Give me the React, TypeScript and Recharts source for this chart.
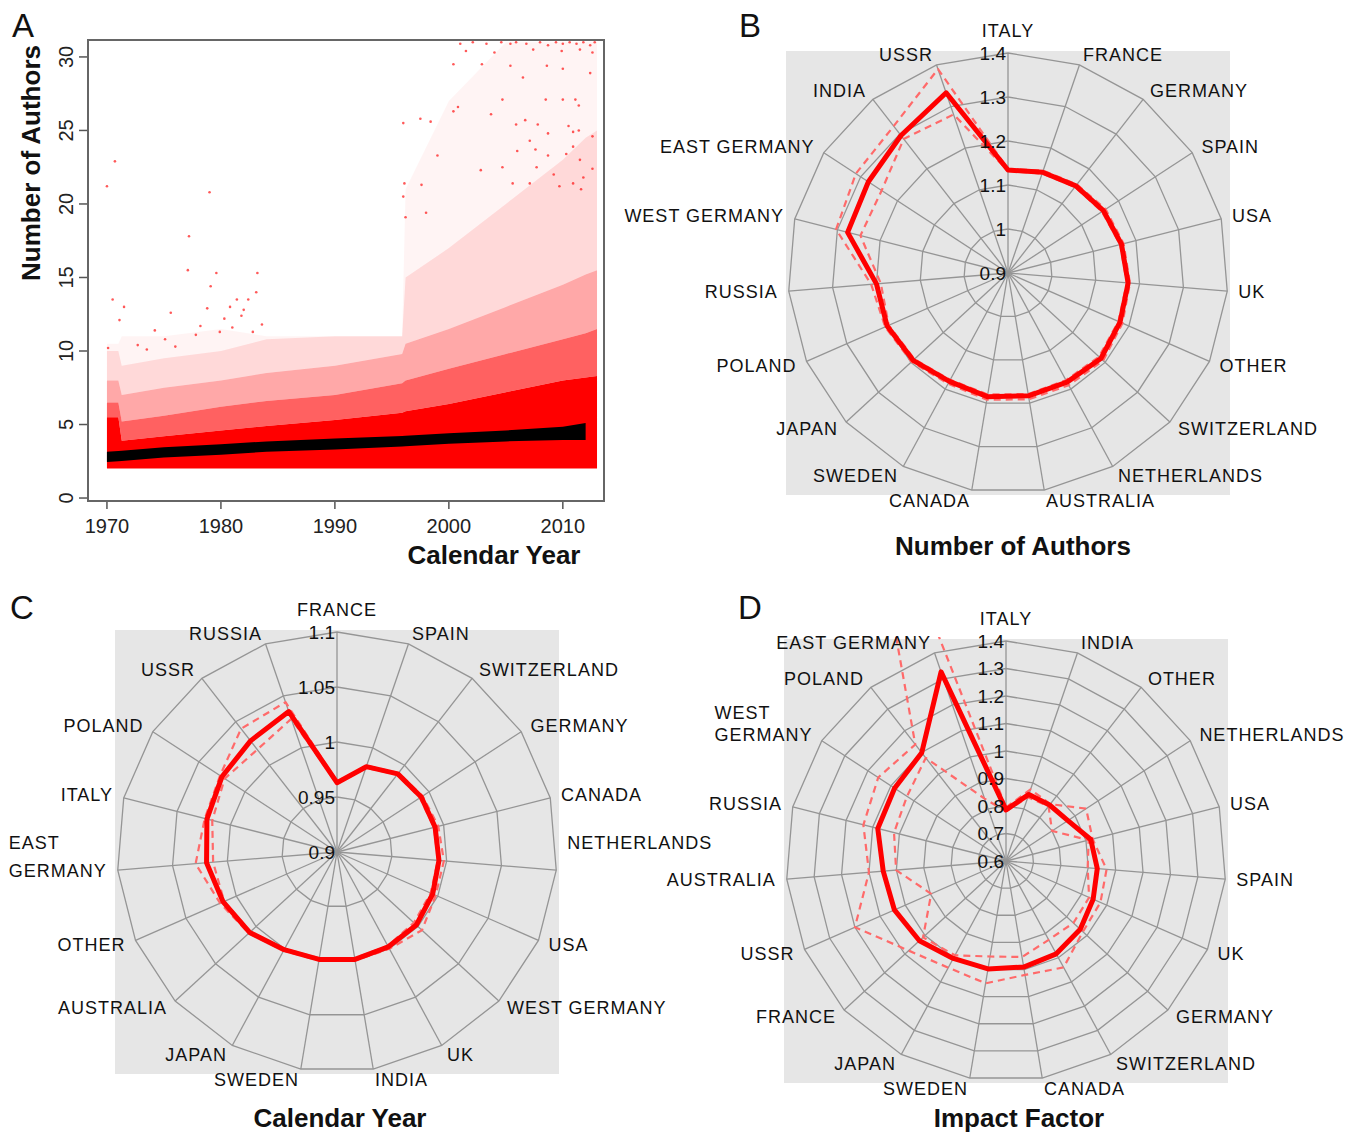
import React from 'react';
import {
  ComposedChart,
  Area,
  Scatter,
  XAxis,
  YAxis,
  RadarChart,
  Radar,
  PolarGrid,
  PolarAngleAxis,
  PolarRadiusAxis,
} from 'recharts';

const FONT = '"Liberation Sans", Arial, Helvetica, sans-serif';

// ---------- Panel A: authors per paper by year ----------
const years = [1970, 1971, 1971.3, 1975, 1980, 1984, 1990, 1995.9, 1996.2, 2000, 2005, 2010, 2012, 2013];
const minAuthors = 2;
const denseTop = [5.5, 5.5, 3.9, 4.2, 4.6, 4.9, 5.3, 5.8, 5.9, 6.4, 7.2, 8.0, 8.2, 8.3];
const thickTop = [6.5, 6.5, 5.2, 5.6, 6.2, 6.6, 7.0, 7.8, 8.0, 8.8, 9.8, 10.8, 11.2, 11.5];
const midTop = [8.0, 8.0, 7.0, 7.5, 8.0, 8.5, 9.0, 9.8, 10.5, 11.5, 13.0, 14.5, 15.2, 15.5];
const thinTop = [10, 10, 9, 9.5, 10, 10.8, 11, 11, 15, 17, 20, 23, 24.5, 25];
const sparseTop = [10.5, 10.5, 11, 11, 11.5, 11, 11, 11, 21, 27, 31, 31, 31, 31];
const trendLo = [2.45, 2.5, 2.52, 2.75, 2.95, 3.15, 3.3, 3.5, 3.52, 3.7, 3.85, 3.95, 3.95, null];
const trendHi = [3.15, 3.2, 3.22, 3.45, 3.65, 3.85, 4.05, 4.22, 4.24, 4.4, 4.6, 4.85, 5.1, null];

const outliers: [number, number][] = [
  [1970.0, 21.2], [1970.7, 22.9], [1979.0, 20.8], [1977.2, 17.8], [1977.1, 15.5], [1979.6, 15.3],
  [1983.2, 15.3], [1970.5, 13.5], [1971.5, 13.0], [1971.1, 12.1], [1975.6, 12.6], [1979.1, 14.4],
  [1979.9, 11.3], [1980.8, 13.0], [1981.4, 13.5], [1981.8, 12.4], [1982.4, 13.5], [1983.1, 14.0],
  [1978.2, 11.7], [1975.1, 10.8], [1972.7, 10.4], [1970.1, 10.2], [1982.0, 12.8], [1981.0, 11.6],
  [1977.8, 11.1], [1973.5, 10.1], [1976.0, 10.3], [1974.2, 11.4], [1980.3, 12.2], [1983.6, 11.8],
  [1982.8, 11.3], [1978.8, 12.9],
  [1996.0, 25.5], [1997.5, 25.8], [1998.4, 25.6], [2000.4, 26.3], [2000.8, 26.6], [1999.0, 23.3],
  [1996.1, 21.4], [1996.0, 20.5], [1997.6, 21.3], [1996.2, 19.1], [1998.0, 19.4], [2000.4, 29.5],
  [2002.9, 29.5], [2004.7, 27.1], [2003.7, 26.1],
  [2001.0, 30.9], [2002.1, 31], [2003.3, 30.9], [2004.6, 31], [2005.4, 30.9], [2005.9, 31],
  [2006.8, 30.9], [2008.0, 31], [2008.7, 30.8], [2009.4, 31], [2010.0, 30.9], [2010.6, 31],
  [2011.2, 30.9], [2011.8, 31], [2012.4, 30.8], [2012.8, 31], [2001.5, 30.4], [2004.0, 30.3],
  [2007.4, 30.5], [2009.9, 30.4], [2011.5, 30.5], [2012.6, 30.3],
  [2005.4, 29.4], [2006.5, 28.6], [2008.6, 29.4], [2010.0, 29.2], [2012.4, 28.9],
  [2008.5, 27.1], [2010.0, 27.1], [2011.1, 27.1], [2011.4, 26.7], [2005.9, 25.4], [2006.7, 25.7],
  [2007.8, 25.4], [2008.7, 24.8], [2010.5, 25.3], [2010.9, 24.9], [2011.4, 25.0], [2012.6, 24.6],
  [2006.0, 23.6], [2007.1, 24.3], [2007.6, 23.7], [2008.7, 23.3], [2010.3, 23.4], [2010.9, 23.9],
  [2011.5, 23.0], [2011.8, 21.8], [2012.6, 22.4], [2002.8, 22.3], [2004.7, 22.5], [2007.7, 22.5],
  [2009.2, 22.0], [2005.6, 21.4], [2007.1, 21.4], [2009.7, 21.2], [2010.9, 21.4], [2011.6, 21.0],
];

const yearTicks = [1970, 1980, 1990, 2000, 2010];
const authorTicks = [0, 5, 10, 15, 20, 25, 30];

// ---------- Panel B: number of authors ----------
const bCats = ['ITALY', 'FRANCE', 'GERMANY', 'SPAIN', 'USA', 'UK', 'OTHER', 'SWITZERLAND', 'NETHERLANDS', 'AUSTRALIA', 'CANADA', 'SWEDEN', 'JAPAN', 'POLAND', 'RUSSIA', 'WEST GERMANY', 'EAST GERMANY', 'INDIA', 'USSR'];
const bMean = [1.134, 1.142, 1.151, 1.159, 1.166, 1.174, 1.178, 1.187, 1.182, 1.183, 1.185, 1.18, 1.193, 1.2, 1.2, 1.276, 1.279, 1.296, 1.333];
const bUpper = [1.136, 1.146, 1.155, 1.165, 1.171, 1.178, 1.184, 1.194, 1.19, 1.191, 1.192, 1.186, 1.198, 1.205, 1.212, 1.303, 1.313, 1.323, 1.39];
const bLower = [1.132, 1.139, 1.148, 1.155, 1.163, 1.171, 1.174, 1.181, 1.177, 1.179, 1.18, 1.176, 1.189, 1.196, 1.19, 1.246, 1.243, 1.286, 1.281];
const bTicks = [0.9, 1, 1.1, 1.2, 1.3, 1.4];

// ---------- Panel C: calendar year ----------
const cCats = ['FRANCE', 'SPAIN', 'SWITZERLAND', 'GERMANY', 'CANADA', 'NETHERLANDS', 'USA', 'WEST GERMANY', 'UK', 'INDIA', 'SWEDEN', 'JAPAN', 'AUSTRALIA', 'OTHER', 'EAST GERMANY', 'ITALY', 'POLAND', 'USSR', 'RUSSIA'];
const cMean = [0.963, 0.982, 0.99, 0.9915, 0.992, 0.993, 0.995, 0.998, 0.998, 0.999, 0.999, 1.001, 1.008, 1.013, 1.019, 1.022, 1.025, 1.028, 1.035];
const cUpper = [0.964, 0.983, 0.991, 0.993, 0.995, 0.9975, 0.998, 1.005, 1.0, 1.0, 1.0, 1.002, 1.009, 1.016, 1.029, 1.024, 1.027, 1.042, 1.044];
const cLower = [0.962, 0.981, 0.989, 0.99, 0.991, 0.992, 0.993, 0.995, 0.997, 0.998, 0.998, 1.0, 1.007, 1.012, 1.013, 1.017, 1.022, 1.018, 1.028];
const cTicks = [0.9, 0.95, 1, 1.05, 1.1];

// ---------- Panel D: impact factor ----------
const dCats = ['ITALY', 'INDIA', 'OTHER', 'NETHERLANDS', 'USA', 'SPAIN', 'UK', 'GERMANY', 'SWITZERLAND', 'CANADA', 'SWEDEN', 'JAPAN', 'FRANCE', 'USSR', 'AUSTRALIA', 'RUSSIA', 'WEST GERMANY', 'POLAND', 'EAST GERMANY'];
const dMean = [0.786, 0.856, 0.858, 0.869, 0.918, 0.933, 0.946, 0.967, 0.984, 0.991, 0.998, 1.003, 1.028, 1.043, 1.048, 1.081, 1.084, 1.099, 1.327];
const dUpper = [0.795, 0.875, 0.862, 0.948, 0.925, 0.967, 0.975, 0.98, 1.04, 1.02, 1.051, 1.041, 1.081, 1.2, 1.1, 1.135, 1.155, 1.137, 2.23];
const dLower = [0.78, 0.845, 0.852, 0.8, 0.91, 0.898, 0.93, 0.933, 0.926, 0.954, 0.952, 0.99, 1.01, 0.897, 1.001, 1.02, 1.03, 1.075, 0.84];
const dTicks = [0.6, 0.7, 0.8, 0.9, 1, 1.1, 1.2, 1.3, 1.4];

// ---------- helpers ----------
const rangeRows = years.map((year, i) => ({
  year,
  dense: [minAuthors, denseTop[i]],
  thick: [denseTop[i], thickTop[i]],
  mid: [thickTop[i], midTop[i]],
  thin: [midTop[i], thinTop[i]],
  sparse: [thinTop[i], sparseTop[i]],
  trend: trendLo[i] == null ? null : [trendLo[i], trendHi[i]],
}));
const outlierRows = outliers.map(([year, n]) => ({ year, n }));

const radarRows = (cats: string[], mean: number[], lo: number[], hi: number[]) =>
  cats.map((cat, i) => ({ cat, mean: mean[i], lo: lo[i], hi: hi[i] }));

const LABEL_SIZE = 18;
const LETTER_SP = 1;
const LABEL_R = 231;
const CAP_W: Record<string, number> = {
  A: 0.667, B: 0.667, C: 0.722, D: 0.722, E: 0.667, F: 0.611, G: 0.778, H: 0.722, I: 0.278,
  J: 0.5, K: 0.667, L: 0.556, M: 0.833, N: 0.722, O: 0.778, P: 0.667, Q: 0.778, R: 0.722,
  S: 0.667, T: 0.611, U: 0.722, V: 0.667, W: 0.944, X: 0.667, Y: 0.667, Z: 0.611, ' ': 0.278,
};
const textWidth = (s: string) =>
  [...s].reduce((w, ch) => w + (CAP_W[ch] ?? 0.6) * LABEL_SIZE + LETTER_SP, 0);

const fmt = (v: number) => String(Number(v.toFixed(2)));

function angleTick(cats: string[], cx: number, cy: number, lineH: number, split: Record<string, string[]>) {
  return (p: any) => {
    const name = String(p.payload.value);
    const i = cats.indexOf(name);
    const a = (i / cats.length) * 2 * Math.PI;
    const s = Math.sin(a);
    const c = Math.cos(a);
    const anchor = Math.abs(s) < 0.05 ? 'middle' : s > 0 ? 'start' : 'end';
    const x = cx + LABEL_R * s;
    let y = cy - LABEL_R * c;
    if (c > 0.99) y -= 11;
    const lines = split[name] ?? [name];
    const n = lines.length;
    const common = {
      fontSize: LABEL_SIZE,
      fontFamily: FONT,
      letterSpacing: LETTER_SP,
      fill: '#111',
      dominantBaseline: 'central' as const,
    };
    if (n === 1) {
      return (
        <text x={x} y={y} textAnchor={anchor} {...common}>
          {name}
        </text>
      );
    }
    const wMax = Math.max(...lines.map(textWidth));
    const x0 = anchor === 'end' ? x - wMax : x;
    return (
      <g>
        {lines.map((ln, k) => (
          <text key={k} x={x0} y={y - (n - 1 - k) * lineH} textAnchor="start" {...common}>
            {ln}
          </text>
        ))}
      </g>
    );
  };
}

function radiusTick(cx: number) {
  return (p: any) => (
    <text
      x={cx - 2}
      y={p.y}
      textAnchor="end"
      dominantBaseline="central"
      fontSize={19}
      fontFamily={FONT}
      fill="#111"
    >
      {fmt(Number(p.payload.value))}
    </text>
  );
}

function lineShape(stroke: string, width: number, dash?: string, clip?: string) {
  return (props: any) => {
    const pts: { x: number; y: number }[] = props.points || [];
    const d = pts.map((pt, i) => `${i ? 'L' : 'M'}${pt.x},${pt.y}`).join('') + 'Z';
    return (
      <path
        d={d}
        fill="none"
        stroke={stroke}
        strokeWidth={width}
        strokeDasharray={dash}
        strokeLinejoin="round"
        clipPath={clip ? `url(#${clip})` : undefined}
      />
    );
  };
}

interface RadarPanelProps {
  cats: string[];
  mean: number[];
  lo: number[];
  hi: number[];
  domain: [number, number];
  ticks: number[];
  left: number;
  top: number;
  width: number;
  height: number;
  cx: number;
  cy: number;
  lineH: number;
  split?: Record<string, string[]>;
  clip?: string;
}

const OUTER = 220;

function RadarPanel(p: RadarPanelProps) {
  const rows = radarRows(p.cats, p.mean, p.lo, p.hi);
  return (
    <div style={{ position: 'absolute', left: p.left, top: p.top, width: p.width, height: p.height }}>
      <div
        style={{
          position: 'absolute',
          left: p.cx - 222,
          top: p.cy - 222,
          width: 444,
          height: 444,
          background: '#e6e6e6',
        }}
      />
      <div style={{ position: 'absolute', left: 0, top: 0 }}>
        <RadarChart
          width={p.width}
          height={p.height}
          data={rows}
          cx={p.cx}
          cy={p.cy}
          outerRadius={OUTER}
          margin={{ top: 0, right: 0, bottom: 0, left: 0 }}
        >
          <PolarGrid gridType="polygon" stroke="#959595" strokeWidth={1.3} />
          <PolarAngleAxis
            dataKey="cat"
            axisLine={false}
            tickLine={false}
            tick={angleTick(p.cats, p.cx, p.cy, p.lineH, p.split ?? {})}
          />
          <PolarRadiusAxis
            angle={90}
            type="number"
            domain={p.domain}
            ticks={p.ticks}
            tickCount={p.ticks.length}
            allowDecimals
            allowDataOverflow
            axisLine={false}
            tickLine={false}
            tick={radiusTick(p.cx)}
          />
          <Radar
            dataKey="hi"
            stroke="#ff6a6a"
            fill="none"
            dot={false}
            isAnimationActive={false}
            shape={lineShape('#ff6a6a', 2.2, '7 5', p.clip)}
          />
          <Radar
            dataKey="lo"
            stroke="#ff6a6a"
            fill="none"
            dot={false}
            isAnimationActive={false}
            shape={lineShape('#ff6a6a', 2.2, '7 5', p.clip)}
          />
          <Radar
            dataKey="mean"
            stroke="#ff0000"
            fill="none"
            dot={false}
            isAnimationActive={false}
            shape={lineShape('#ff0000', 5, undefined, p.clip)}
          />
        </RadarChart>
      </div>
    </div>
  );
}

const YTick = (p: any) => {
  const y = p.y;
  return (
    <g>
      <line x1={79} x2={87} y1={y} y2={y} stroke="#555" strokeWidth={1.5} />
      <text
        transform={`translate(66,${y}) rotate(-90)`}
        textAnchor="middle"
        dominantBaseline="central"
        fontSize={20}
        fontFamily={FONT}
        fill="#222"
      >
        {p.payload.value}
      </text>
    </g>
  );
};

const XTick = (p: any) => (
  <g>
    <line x1={p.x} x2={p.x} y1={502} y2={509} stroke="#555" strokeWidth={1.5} />
    <text
      x={p.x}
      y={526}
      textAnchor="middle"
      dominantBaseline="central"
      fontSize={20}
      fontFamily={FONT}
      fill="#222"
    >
      {p.payload.value}
    </text>
  </g>
);

const dotShape = (props: any) => (
  <circle cx={props.cx} cy={props.cy} r={1.3} fill="#ff0000" fillOpacity={0.65} />
);

function ScatterPanel() {
  return (
    <div style={{ position: 'absolute', left: 0, top: 0, width: 620, height: 580 }}>
      <ComposedChart
        width={620}
        height={580}
        data={rangeRows}
        margin={{ top: 39, right: 15, bottom: 58, left: 67 }}
      >
        <XAxis
          dataKey="year"
          type="number"
          domain={[1968.25, 2013.7]}
          ticks={yearTicks}
          interval={0}
          allowDataOverflow
          axisLine={false}
          tickLine={false}
          height={20}
          tick={XTick}
        />
        <YAxis
          type="number"
          domain={[-0.27, 31.22]}
          ticks={authorTicks}
          interval={0}
          allowDataOverflow
          axisLine={false}
          tickLine={false}
          width={20}
          tick={YTick}
        />
        <Area dataKey="sparse" type="linear" stroke="none" fill="#ff0000" fillOpacity={0.045} isAnimationActive={false} />
        <Area dataKey="thin" type="linear" stroke="none" fill="#ff0000" fillOpacity={0.15} isAnimationActive={false} />
        <Area dataKey="mid" type="linear" stroke="none" fill="#ff0000" fillOpacity={0.34} isAnimationActive={false} />
        <Area dataKey="thick" type="linear" stroke="none" fill="#ff0000" fillOpacity={0.62} isAnimationActive={false} />
        <Area dataKey="dense" type="linear" stroke="none" fill="#ff0000" fillOpacity={1} isAnimationActive={false} />
        <Scatter data={outlierRows} dataKey="n" shape={dotShape} isAnimationActive={false} />
        <Area dataKey="trend" type="linear" stroke="none" fill="#000" fillOpacity={1} isAnimationActive={false} />
      </ComposedChart>
      <div
        style={{
          position: 'absolute',
          left: 87,
          top: 39,
          width: 518,
          height: 463,
          border: '2px solid #666',
          boxSizing: 'border-box',
          pointerEvents: 'none',
        }}
      />
    </div>
  );
}

export default function App() {
  const title = { fontFamily: FONT, fontWeight: 700, fontSize: 26, fill: '#111' };
  const letter = { fontFamily: FONT, fontSize: 33, fill: '#111' };
  return (
    <div
      style={{
        position: 'absolute',
        left: 0,
        top: 0,
        width: 1351,
        height: 1132,
        background: '#fff',
        overflow: 'hidden',
      }}
    >
      <svg width={0} height={0} style={{ position: 'absolute' }}>
        <defs>
          <clipPath id="clipD" clipPathUnits="userSpaceOnUse">
            <rect x={144} y={57} width={444} height={446} />
          </clipPath>
        </defs>
      </svg>
      <ScatterPanel />
      <RadarPanel
        cats={bCats}
        mean={bMean}
        lo={bLower}
        hi={bUpper}
        domain={[0.9, 1.4]}
        ticks={bTicks}
        left={600}
        top={0}
        width={751}
        height={540}
        cx={408}
        cy={273}
        lineH={24}
      />
      <RadarPanel
        cats={cCats}
        mean={cMean}
        lo={cLower}
        hi={cUpper}
        domain={[0.9, 1.1]}
        ticks={cTicks}
        left={0}
        top={580}
        width={740}
        height={520}
        cx={337}
        cy={272}
        lineH={28}
        split={{ 'EAST GERMANY': ['EAST', 'GERMANY'], NETHERLANDS: ['NETHERLANDS', ''] }}
      />
      <RadarPanel
        cats={dCats}
        mean={dMean}
        lo={dLower}
        hi={dUpper}
        domain={[0.6, 1.4]}
        ticks={dTicks}
        left={640}
        top={580}
        width={711}
        height={520}
        cx={366}
        cy={281}
        lineH={22}
        split={{ 'WEST GERMANY': ['WEST', 'GERMANY'] }}
        clip="clipD"
      />
      <svg
        width={1351}
        height={1132}
        style={{ position: 'absolute', left: 0, top: 0, pointerEvents: 'none' }}
      >
        <text x={12} y={37} {...letter}>A</text>
        <text x={739} y={37} {...letter}>B</text>
        <text x={10} y={619} {...letter}>C</text>
        <text x={738} y={619} {...letter}>D</text>
        <text x={494} y={555} textAnchor="middle" dominantBaseline="central" {...title}>
          Calendar Year
        </text>
        <text
          transform="translate(31,163) rotate(-90)"
          textAnchor="middle"
          dominantBaseline="central"
          {...title}
        >
          Number of Authors
        </text>
        <text x={1013} y={546} textAnchor="middle" dominantBaseline="central" {...title}>
          Number of Authors
        </text>
        <text x={340} y={1118} textAnchor="middle" dominantBaseline="central" {...title}>
          Calendar Year
        </text>
        <text x={1019} y={1118} textAnchor="middle" dominantBaseline="central" {...title}>
          Impact Factor
        </text>
      </svg>
    </div>
  );
}
